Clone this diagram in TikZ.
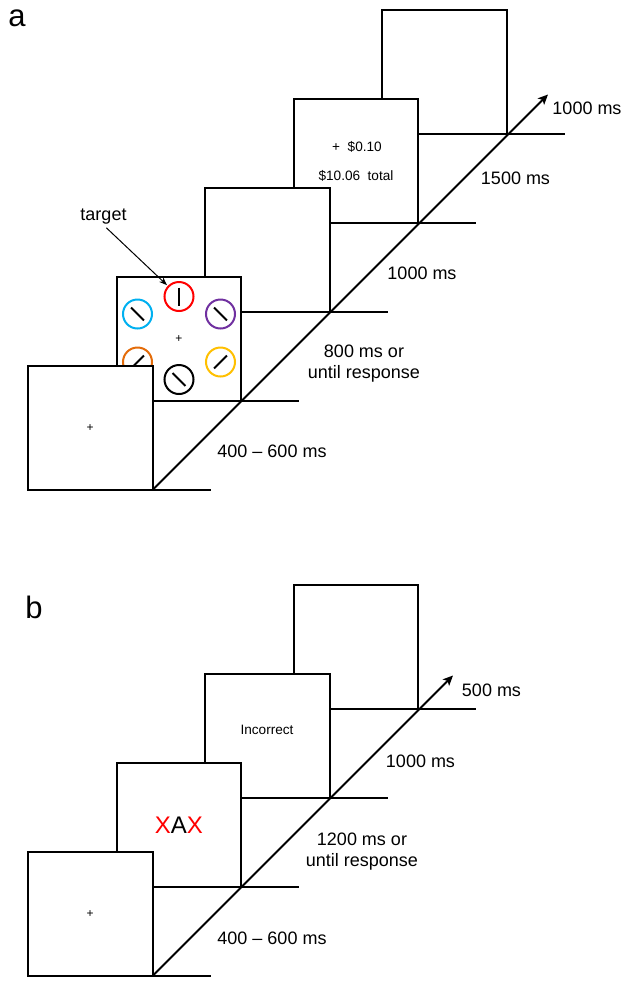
\documentclass[tikz,border=0pt]{standalone}
\usepackage{fontspec}
\setmainfont{Liberation Sans}
\usetikzlibrary{positioning,arrows.meta}
\definecolor{stimred}{RGB}{255,0,0}
\definecolor{stimcyan}{RGB}{0,176,240}
\definecolor{stimpurple}{RGB}{112,48,160}
\definecolor{stimorange}{RGB}{228,108,10}
\definecolor{stimyellow}{RGB}{255,192,0}

\begin{document}
\begin{tikzpicture}[x=0.5pt,y=-0.5pt,
    screen/.style={draw,fill=white,line width=1pt,minimum size=62.25pt,inner sep=0pt,outer sep=0pt,font=\fontsize{6}{7}\selectfont},
    edge/.style={line width=1pt},
    lbl/.style={font=\fontsize{9}{10.5}\selectfont,inner sep=0pt,align=center},
    small/.style={font=\fontsize{6.8}{8}\selectfont,inner sep=0pt},
    stim/.style={draw=#1,circle,line width=1pt,minimum size=14.5pt,inner sep=0pt,outer sep=0pt},
    bar/.style={line width=1pt},
    panel/.style={font=\fontsize{15.5}{17}\selectfont,inner sep=0pt,anchor=base west},
    timeline/.style={line width=1pt,-{Stealth[length=5pt,width=4.5pt,inset=1.2pt]}}]
\useasboundingbox (0,0) rectangle (629,986);

% panel a
\node[panel] (pa) at (8,26) {a};
\node[screen] (a4) at (444.65,71.75) {};
\draw[edge] (a4.south east) -- ++(58,0);
\node[screen] (a3) at (356.05,160.75) {};
\draw[edge] (a3.south east) -- ++(58,0);
\node[small] (gain) at (357,147) {+\ \ \$0.10};
\node[small] (total) at (356,176) {\$10.06\ \ total};
\node[screen] (a2) at (267.45,249.75) {};
\draw[edge] (a2.south east) -- ++(58,0);
\node[screen] (a1) at (178.85,338.75) {+};
\draw[edge] (a1.south east) -- ++(58,0);
\node[stim=stimred] (tgt) at (179,296.5) {};
\draw[bar] (tgt.center) ++(0,-9) -- ++(0,18);
\node[stim=stimcyan] (cyan) at (137.5,314) {};
\draw[bar] (cyan.center) ++(-6.4,-6.4) -- ++(12.8,12.8);
\node[stim=stimpurple] (purple) at (220.5,314) {};
\draw[bar] (purple.center) ++(-6.4,-6.4) -- ++(12.8,12.8);
\node[stim=stimorange] (orange) at (137.5,362) {};
\draw[bar] (orange.center) ++(-6.4,6.4) -- ++(12.8,-12.8);
\node[stim=stimyellow] (yellow) at (220.5,362) {};
\draw[bar] (yellow.center) ++(-6.4,6.4) -- ++(12.8,-12.8);
\node[stim=black] (dark) at (179,379.5) {};
\draw[bar] (dark.center) ++(-6.4,-6.4) -- ++(12.8,12.8);
\node[screen] (a0) at (90.25,427.75) {+};
\draw[edge] (a0.south east) -- ++(58,0);
\coordinate (enda) at (548,94.5);
\draw[timeline] (a0.south east) -- (enda);
\node[lbl] (target) at (103.5,217) {target};
\draw[line width=0.5pt,-{Stealth[length=4pt,width=3pt]},shorten <=2pt,shorten >=1pt] (target.south) -- (tgt);
\node[lbl] (ta0) at (272,451) {400 -- 600 ms};
\node[lbl] (ta1) at (364,363.5) {800 ms or\\until response};
\node[lbl] (ta2) at (422,273) {1000 ms};
\node[lbl] (ta3) at (515.5,178) {1500 ms};
\node[lbl] (ta4) at (587,108) {1000 ms};

% panel b
\node[panel] (pb) at (25,618) {b};
\node[screen] (b3) at (356.05,646.75) {};
\draw[edge] (b3.south east) -- ++(58,0);
\node[screen] (b2) at (267.45,735.75) {};
\draw[edge] (b2.south east) -- ++(58,0);
\node[small] (wrong) at (267,730) {Incorrect};
\node[screen,font=\fontsize{12}{14}\selectfont] (b1) at (178.85,824.75) {{\color{stimred}X}A{\color{stimred}X}};
\draw[edge] (b1.south east) -- ++(58,0);
\node[screen] (b0) at (90.25,913.75) {+};
\draw[edge] (b0.south east) -- ++(58,0);
\coordinate (endb) at (453,675.5);
\draw[timeline] (b0.south east) -- (endb);
\node[lbl] (tb0) at (272,938) {400 -- 600 ms};
\node[lbl] (tb1) at (362,851.5) {1200 ms or\\until response};
\node[lbl] (tb2) at (420.5,761) {1000 ms};
\node[lbl] (tb3) at (491.5,690) {500 ms};
\end{tikzpicture}
\end{document}
